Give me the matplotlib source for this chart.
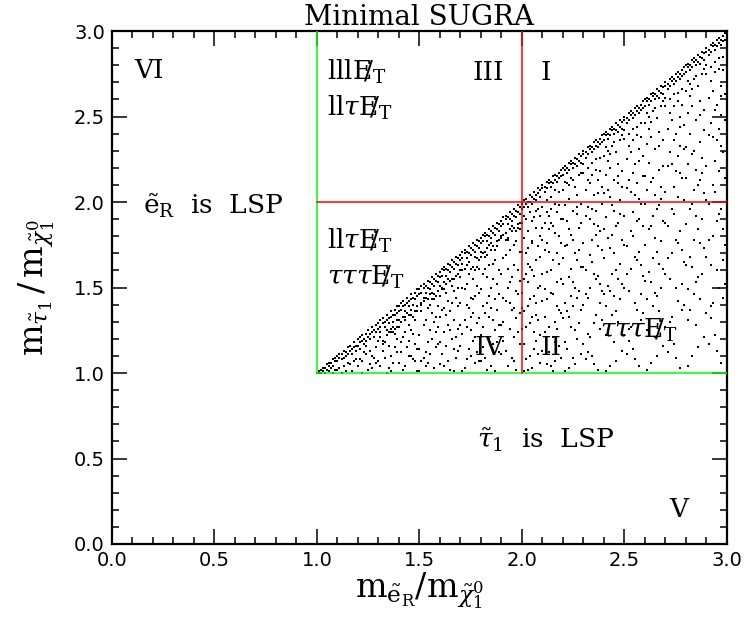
import matplotlib
matplotlib.use('Agg')
import matplotlib.pyplot as plt
import numpy as np

# scan points (units of 0.01): (m_eR/m_chi, m_tau1/m_chi)
scan_low = [
(100,100),(101,100),(101,101),(102,100),(102,102),(103,101),(103,103),(104,100),(104,103),(105,102),(105,105),(106,104),(106,101),(107,106),(107,103),(108,108),(108,104),(109,107),(109,102),(108,100),(106,106),(109,109),
(110,110),(110,107),(111,109),(111,111),(112,108),(112,111),(113,113),(113,109),(114,112),(114,110),(115,115),(115,111),(116,113),(116,116),(117,114),(117,111),(118,118),(118,115),(119,116),(119,113),
(113,104),(117,101),(110,102),(115,106),(119,108),(112,100),(116,105),(111,103),(118,107),(114,101),
(120,120),(120,116),(121,118),(121,121),(122,119),(122,122),(123,120),(123,117),(124,123),(124,119),(125,125),(125,121),(126,123),(126,120),(127,127),(127,124),(128,125),(128,121),(129,128),(129,124),
(124,111),(127,103),(121,108),(129,115),(122,100),(126,113),(120,104),(128,109),(125,102),(123,112),(129,106),(121,114),(126,105),(124,116),(127,110),(122,107),
(130,129),(130,126),(131,131),(131,127),(132,129),(132,132),(133,130),(133,127),(134,134),(134,131),(135,132),(135,129),(136,136),(136,133),(137,134),(137,130),(138,137),(138,134),(139,139),(139,135),
(131,124),(134,122),(137,127),(139,131),(132,119),(136,124),(138,126),(135,124),
(135,116),(131,104),(138,123),(133,109),(136,101),(130,119),(139,112),(134,125),(132,113),(137,106),(131,121),(138,115),(135,103),(139,127),(133,118),(136,110),(130,107),(137,124),(134,100),(132,117),(139,120),(136,126),
(140,139),(140,136),(141,141),(141,137),(142,139),(142,142),(143,140),(143,136),(144,144),(144,141),(145,142),(145,139),(146,146),(146,143),(147,144),(147,140),(148,147),(148,143),(149,149),(149,145),
(140,131),(143,131),(145,134),(147,133),(149,139),(142,133),(146,137),(148,136),
(146,125),(141,112),(148,131),(143,104),(145,119),(149,136),(140,127),(147,108),(142,121),(144,115),(149,101),(141,130),(146,110),(143,133),(148,117),(140,106),(145,128),(147,123),(142,102),(144,135),(149,114),(141,118),(146,134),(148,107),(143,124),(145,110),
(150,149),(150,146),(151,151),(151,147),(152,150),(152,152),(153,151),(153,147),(154,154),(154,150),(155,153),(155,149),(156,156),(156,152),(157,155),(157,151),(158,158),(158,154),(159,157),(159,153),
(151,140),(153,144),(155,146),(157,143),(159,148),(152,142),(156,147),(158,145),(154,143),
(153,131),(158,115),(150,122),(155,140),(157,103),(151,136),(159,127),(152,109),(156,143),(154,118),(150,101),(158,133),(153,112),(155,125),(157,146),(151,107),(159,139),(152,128),(156,120),(154,138),(150,114),(157,130),(153,104),(158,124),(155,111),(151,141),(159,117),(156,135),(154,106),(152,144),
(160,159),(160,156),(161,161),(161,157),(162,160),(162,162),(163,161),(163,157),(164,164),(164,160),(165,163),(165,159),(166,166),(166,162),(167,165),(167,161),(168,168),(168,164),(169,167),(169,163),
(161,150),(163,152),(165,154),(167,155),(169,158),(160,151),(162,149),(164,155),(166,151),(168,157),
(164,142),(160,118),(167,131),(162,104),(169,150),(165,125),(161,137),(168,109),(163,147),(166,120),(160,133),(169,113),(162,153),(167,101),(164,128),(161,111),(168,144),(165,136),(163,116),(166,155),(160,105),(169,139),(162,124),(167,148),(164,107),(161,149),(168,121),(165,102),(163,134),(166,141),(160,145),(169,126),(167,114),(162,138),
(170,169),(170,166),(171,171),(171,167),(172,170),(172,172),(173,171),(173,167),(174,174),(174,170),(175,173),(175,169),(176,176),(176,172),(177,175),(177,171),(178,178),(178,174),(179,177),(179,173),
(171,160),(172,161),(174,165),(176,162),(178,167),(170,160),(173,163),(175,161),(177,168),(179,166),
(173,152),(178,129),(170,141),(175,110),(177,160),(171,123),(179,147),(172,103),(176,135),(174,158),(170,116),(178,151),(173,127),(175,144),(171,164),(177,106),(179,132),(172,149),(176,119),(174,138),(170,156),(178,112),(173,140),(175,125),(171,101),(177,145),(179,161),(172,131),(176,155),(174,114),(170,128),(178,162),(173,108),(176,143),(171,150),(175,133),(177,121),(179,107),
(180,179),(180,176),(181,181),(181,177),(182,180),(182,182),(183,181),(183,177),(184,184),(184,180),(185,183),(185,179),(186,186),(186,182),(187,185),(187,181),(188,188),(188,184),(189,187),(189,183),
(181,170),(183,173),(185,176),(187,172),(189,178),(180,171),(182,168),(184,175),(186,174),(188,177),
(184,163),(188,137),(180,149),(186,117),(182,171),(189,128),(181,158),(185,104),(187,166),(183,141),(180,122),(188,174),(184,133),(186,155),(182,109),(189,160),(181,139),(185,150),(187,125),(183,102),(180,168),(188,118),(184,145),(186,131),(182,161),(189,112),(181,127),(185,172),(187,143),(183,156),(180,107),(188,152),(184,120),(186,164),(182,135),(189,146),(181,115),(185,138),(187,101),(183,169),
(190,189),(190,186),(191,191),(191,187),(192,190),(192,192),(193,191),(193,187),(194,194),(194,190),(195,193),(195,189),(196,196),(196,192),(197,195),(197,191),(198,198),(198,194),(199,197),(199,193),
(191,181),(192,178),(194,184),(196,185),(198,187),(190,180),(193,179),(195,186),(197,183),(199,188),
(194,172),(198,146),(190,158),(196,121),(192,182),(199,135),(191,167),(195,109),(197,177),(193,150),(190,128),(198,185),(194,141),(196,163),(192,113),(199,171),(191,144),(195,156),(197,132),(193,104),(190,179),(198,124),(194,153),(196,138),(192,169),(199,117),(191,130),(195,183),(197,148),(193,161),(190,111),(198,160),(194,126),(196,175),(192,142),(199,154),(191,119),(195,137),(197,102),(193,178),(196,107),(199,184),
]

scan_high = [
(200,199),(200,196),(201,201),(201,197),(202,199),(202,202),(203,200),(203,197),(204,204),(204,200),(205,203),(205,199),(206,206),(206,202),(207,204),(207,201),(208,208),(208,205),(209,207),(209,203),
(200,188),(201,179),(202,190),(203,183),(204,194),(205,176),(206,191),(207,185),(208,196),(209,180),(201,192),(203,173),(205,189),(207,195),(209,192),
(204,162),(208,131),(200,147),(206,114),(202,170),(209,122),(201,155),(205,103),(207,166),(203,139),(200,126),(208,174),(204,143),(206,157),(202,108),(209,151),(201,136),(205,160),(207,119),(203,102),(200,171),(208,111),(204,129),(206,145),(202,158),(209,106),(201,117),(205,177),(207,134),(203,164),(206,124),(208,150),(200,138),(204,110),(202,127),(209,168),(203,153),(207,141),(201,101),(205,133),
(210,208),(210,210),(211,209),(211,206),(212,212),(212,208),(213,211),(213,213),(214,212),(214,209),(215,215),(215,211),(216,213),(216,216),(217,215),(217,212),(218,217),(218,214),(219,219),(219,215),
(210,197),(211,188),(212,201),(213,192),(214,203),(215,186),(216,199),(217,194),(218,206),(219,190),(210,185),(212,194),(214,196),(216,207),(218,198),
(213,171),(217,139),(210,158),(215,121),(219,176),(211,133),(218,164),(212,105),(216,182),(214,147),(210,113),(219,155),(213,127),(217,170),(211,149),(215,101),(218,137),(212,176),(216,118),(214,160),(210,142),(219,109),(213,184),(217,153),(211,124),(215,166),(218,116),(212,143),(216,130),(214,104),(210,178),(219,135),(213,112),(217,126),(211,172),(215,146),(218,180),(212,159),(216,107),(214,188),
(220,220),(220,216),(221,219),(221,221),(222,220),(222,217),(223,223),(223,219),(224,222),(224,224),(225,223),(225,220),(226,226),(226,222),(227,225),(227,221),(228,228),(228,224),(229,227),(229,223),
(220,207),(221,198),(222,211),(223,202),(224,214),(225,195),(226,209),(227,204),(228,216),(229,199),(221,212),(223,210),(225,213),(227,197),(229,217),
(224,181),(228,148),(220,167),(226,125),(222,189),(229,137),(221,174),(225,109),(227,193),(223,156),(220,132),(228,185),(224,145),(226,170),(222,114),(229,162),(221,141),(225,178),(227,120),(223,103),(220,190),(228,129),(224,161),(226,150),(222,136),(229,111),(221,118),(225,153),(227,166),(223,184),(226,105),(228,172),(220,152),(224,127),(222,175),(229,188),(223,133),(227,144),(221,101),(225,139),
(230,228),(230,230),(231,229),(231,226),(232,232),(232,228),(233,231),(233,233),(234,232),(234,229),(235,235),(235,231),(236,233),(236,236),(237,235),(237,232),(238,237),(238,234),(239,239),(239,235),
(230,217),(231,207),(232,220),(233,211),(234,223),(235,204),(236,219),(237,213),(238,226),(239,209),(230,222),(232,213),(234,216),(236,225),(238,218),(237,205),
(233,190),(237,157),(230,176),(235,129),(239,199),(231,146),(238,183),(232,112),(236,195),(234,165),(230,140),(239,172),(233,121),(237,186),(231,160),(235,105),(238,152),(232,197),(236,134),(234,178),(230,117),(239,148),(233,169),(237,102),(231,192),(235,158),(238,126),(232,144),(236,181),(234,110),(230,162),(239,131),(233,150),(237,174),(231,108),(235,187),(238,141),(232,123),(236,155),(234,196),
(240,240),(240,236),(241,239),(241,241),(242,240),(242,237),(243,243),(243,239),(244,242),(244,244),(245,243),(245,240),(246,246),(246,242),(247,245),(247,241),(248,248),(248,244),(249,247),(249,243),
(240,227),(241,216),(242,230),(243,220),(244,233),(245,213),(246,229),(247,222),(248,236),(249,218),(241,232),(243,228),(245,235),(247,215),(249,239),(242,224),
(244,198),(248,164),(240,184),(246,136),(242,207),(249,152),(241,191),(245,118),(247,211),(243,173),(240,146),(248,201),(244,158),(246,186),(242,125),(249,178),(241,139),(245,195),(247,130),(243,104),(240,205),(248,143),(244,181),(246,160),(242,151),(249,113),(241,122),(245,170),(247,188),(243,203),(246,107),(248,193),(240,167),(244,134),(242,179),(249,209),(243,148),(247,155),(241,101),(245,145),
(250,248),(250,250),(251,249),(251,246),(252,252),(252,248),(253,251),(253,253),(254,252),(254,249),(255,255),(255,251),(256,253),(256,256),(257,255),(257,252),(258,257),(258,254),(259,259),(259,255),
(250,237),(251,225),(252,240),(253,229),(254,243),(255,222),(256,239),(257,231),(258,246),(259,227),(250,242),(252,233),(254,236),(256,244),(258,238),(257,224),
(253,206),(257,171),(250,192),(255,141),(259,215),(251,158),(258,199),(252,119),(256,211),(254,180),(250,150),(259,186),(253,127),(257,202),(251,174),(255,108),(258,163),(252,213),(256,137),(254,194),(250,122),(259,157),(253,183),(257,104),(251,208),(255,168),(258,131),(252,148),(256,189),(254,114),(250,175),(259,135),(253,161),(257,190),(251,111),(255,204),(258,146),(252,126),(256,166),(254,217),
(260,260),(260,256),(261,259),(261,261),(262,260),(262,257),(263,263),(263,259),(264,262),(264,264),(265,263),(265,260),(266,266),(266,262),(267,265),(267,261),(268,268),(268,264),(269,267),(269,263),
(260,246),(261,234),(262,250),(263,238),(264,253),(265,231),(266,249),(267,241),(268,256),(269,236),(261,252),(263,247),(265,255),(267,233),(269,259),(262,243),
(264,214),(268,177),(260,199),(266,145),(262,223),(269,161),(261,207),(265,121),(267,219),(263,186),(260,154),(268,209),(264,167),(266,196),(262,130),(269,189),(261,143),(265,204),(267,136),(263,106),(260,215),(268,150),(264,192),(266,171),(262,159),(269,116),(261,125),(265,179),(267,198),(263,212),(266,110),(268,202),(260,175),(264,139),(262,184),(269,221),(263,153),(267,164),(261,102),(265,147),
(270,268),(270,270),(271,269),(271,266),(272,272),(272,268),(273,271),(273,273),(274,272),(274,269),(275,275),(275,271),(276,273),(276,276),(277,275),(277,272),(278,277),(278,274),(279,279),(279,275),
(270,256),(271,243),(272,260),(273,248),(274,263),(275,240),(276,259),(277,250),(278,266),(279,245),(270,261),(272,252),(274,256),(276,264),(278,257),(277,244),
(273,222),(277,183),(270,206),(275,150),(279,231),(271,167),(278,214),(272,124),(276,227),(274,193),(270,158),(279,201),(273,133),(277,217),(271,186),(275,109),(278,172),(272,229),(276,142),(274,209),(270,127),(279,165),(273,196),(277,103),(271,221),(275,178),(278,137),(272,155),(276,203),(274,117),(270,188),(279,140),(273,170),(277,233),(271,112),(275,218),(278,152),(272,130),(276,176),(274,236),
(280,280),(280,276),(281,279),(281,281),(282,280),(282,277),(283,283),(283,279),(284,282),(284,284),(285,283),(285,280),(286,286),(286,282),(287,285),(287,281),(288,288),(288,284),(289,287),(289,283),
(280,265),(281,252),(282,269),(283,256),(284,272),(285,248),(286,268),(287,259),(288,275),(289,254),(281,271),(283,266),(285,274),(287,251),(289,278),(282,262),
(284,230),(288,190),(280,214),(286,156),(282,240),(289,173),(281,222),(285,128),(287,235),(283,199),(280,163),(288,226),(284,178),(286,210),(282,137),(289,205),(281,149),(285,219),(287,143),(283,110),(280,232),(288,158),(284,207),(286,184),(282,168),(289,121),(281,131),(285,192),(287,213),(283,228),(286,115),(288,217),(280,187),(284,146),(282,196),(289,242),(283,162),(287,176),(281,104),(285,153),
(290,288),(290,290),(291,289),(291,286),(292,292),(292,288),(293,291),(293,293),(294,292),(294,289),(295,295),(295,291),(296,293),(296,296),(297,295),(297,292),(298,297),(298,294),(299,299),(299,295),
(290,275),(291,261),(292,279),(293,265),(294,282),(295,257),(296,278),(297,268),(298,285),(299,263),(290,280),(292,271),(294,276),(296,284),(298,277),(297,262),
(293,238),(297,196),(290,221),(295,160),(299,248),(291,178),(298,229),(292,132),(296,243),(294,206),(290,168),(299,214),(293,141),(297,233),(291,199),(295,113),(298,184),(292,246),(296,150),(294,224),(290,135),(299,175),(293,210),(297,106),(291,239),(295,189),(298,144),(292,163),(296,218),(294,122),(290,201),(299,152),(293,180),(297,251),(291,117),(295,236),(298,166),(292,139),(296,193),(294,254),
]

pts = np.array(scan_low + scan_high) / 100.0
m_eR = pts[:, 0]
m_tau = pts[:, 1]

# region boundaries
lsp_edge = 1.0
decay_cut = 2.0
axis_max = 3.0

plt.rcParams['mathtext.fontset'] = 'dejavuserif'

fig = plt.figure(figsize=(7.46, 6.21), dpi=100)
ax = fig.add_axes([0.150, 0.124, 0.8245, 0.826])

ax.plot(m_eR, m_tau, 's', ms=1.7, mew=0, color='k', zorder=2)

green = '#00ff00'
red = '#ff0000'
ax.plot([lsp_edge, lsp_edge], [lsp_edge, axis_max], color=green, lw=1.1, zorder=3)
ax.plot([lsp_edge, axis_max], [lsp_edge, lsp_edge], color=green, lw=1.1, zorder=3)
ax.plot([decay_cut, decay_cut], [lsp_edge, axis_max], color=red, lw=1.1, zorder=3)
ax.plot([lsp_edge, axis_max], [decay_cut, decay_cut], color=red, lw=1.1, zorder=3)

ax.set_xlim(0, 3)
ax.set_ylim(0, 3)
ax.set_xticks(np.arange(0, 3.01, 0.5))
ax.set_yticks(np.arange(0, 3.01, 0.5))
ax.set_xticks(np.arange(0, 3.01, 0.1), minor=True)
ax.set_yticks(np.arange(0, 3.01, 0.1), minor=True)
ax.xaxis.set_major_formatter(matplotlib.ticker.FormatStrFormatter('%.1f'))
ax.yaxis.set_major_formatter(matplotlib.ticker.FormatStrFormatter('%.1f'))
ax.tick_params(which='both', direction='in', top=True, right=True, width=1.1, labelsize=14)
ax.tick_params(which='major', length=11, pad=5)
ax.tick_params(which='minor', length=5)
for s in ax.spines.values():
    s.set_linewidth(1.6)

ax.set_title('Minimal SUGRA', family='DejaVu Serif', fontsize=20, pad=1)
ax.set_xlabel(r'$\mathrm{m}_{\tilde{\mathrm{e}}_\mathrm{R}}/\mathrm{m}_{\tilde{\chi}^0_1}$', fontsize=24, labelpad=0)
ax.set_ylabel(r'$\mathrm{m}_{\tilde{\tau}_1}\,/\,\mathrm{m}_{\tilde{\chi}^0_1}$', fontsize=24, labelpad=12)

tf = dict(family='DejaVu Serif', fontsize=19, va='center', zorder=4)
met = r'\mathrm{E}\!\!/_\mathrm{T}'
ax.text(0.11, 2.77, 'VI', **tf)
ax.text(0.15, 1.98, r'$\tilde{\mathrm{e}}_\mathrm{R}$  is  LSP', **tf)
ax.text(1.05, 2.76, r'$\mathrm{lll}' + met + '$', **tf)
ax.text(1.05, 2.55, r'$\mathrm{ll}\tau' + met + '$', **tf)
ax.text(1.76, 2.76, 'III', **tf)
ax.text(2.09, 2.76, 'I', **tf)
ax.text(1.05, 1.77, r'$\mathrm{ll}\tau' + met + '$', **tf)
ax.text(1.05, 1.56, r'$\tau\tau\tau' + met + '$', **tf)
ax.text(1.77, 1.15, 'IV', **tf)
ax.text(2.09, 1.15, 'II', **tf)
ax.text(2.38, 1.25, r'$\tau\tau\tau' + met + '$', **tf)
ax.text(1.78, 0.61, r'$\tilde{\tau}_1$  is  LSP', **tf)
ax.text(2.72, 0.2, 'V', **tf)

fig.savefig('out.png', dpi=100)
